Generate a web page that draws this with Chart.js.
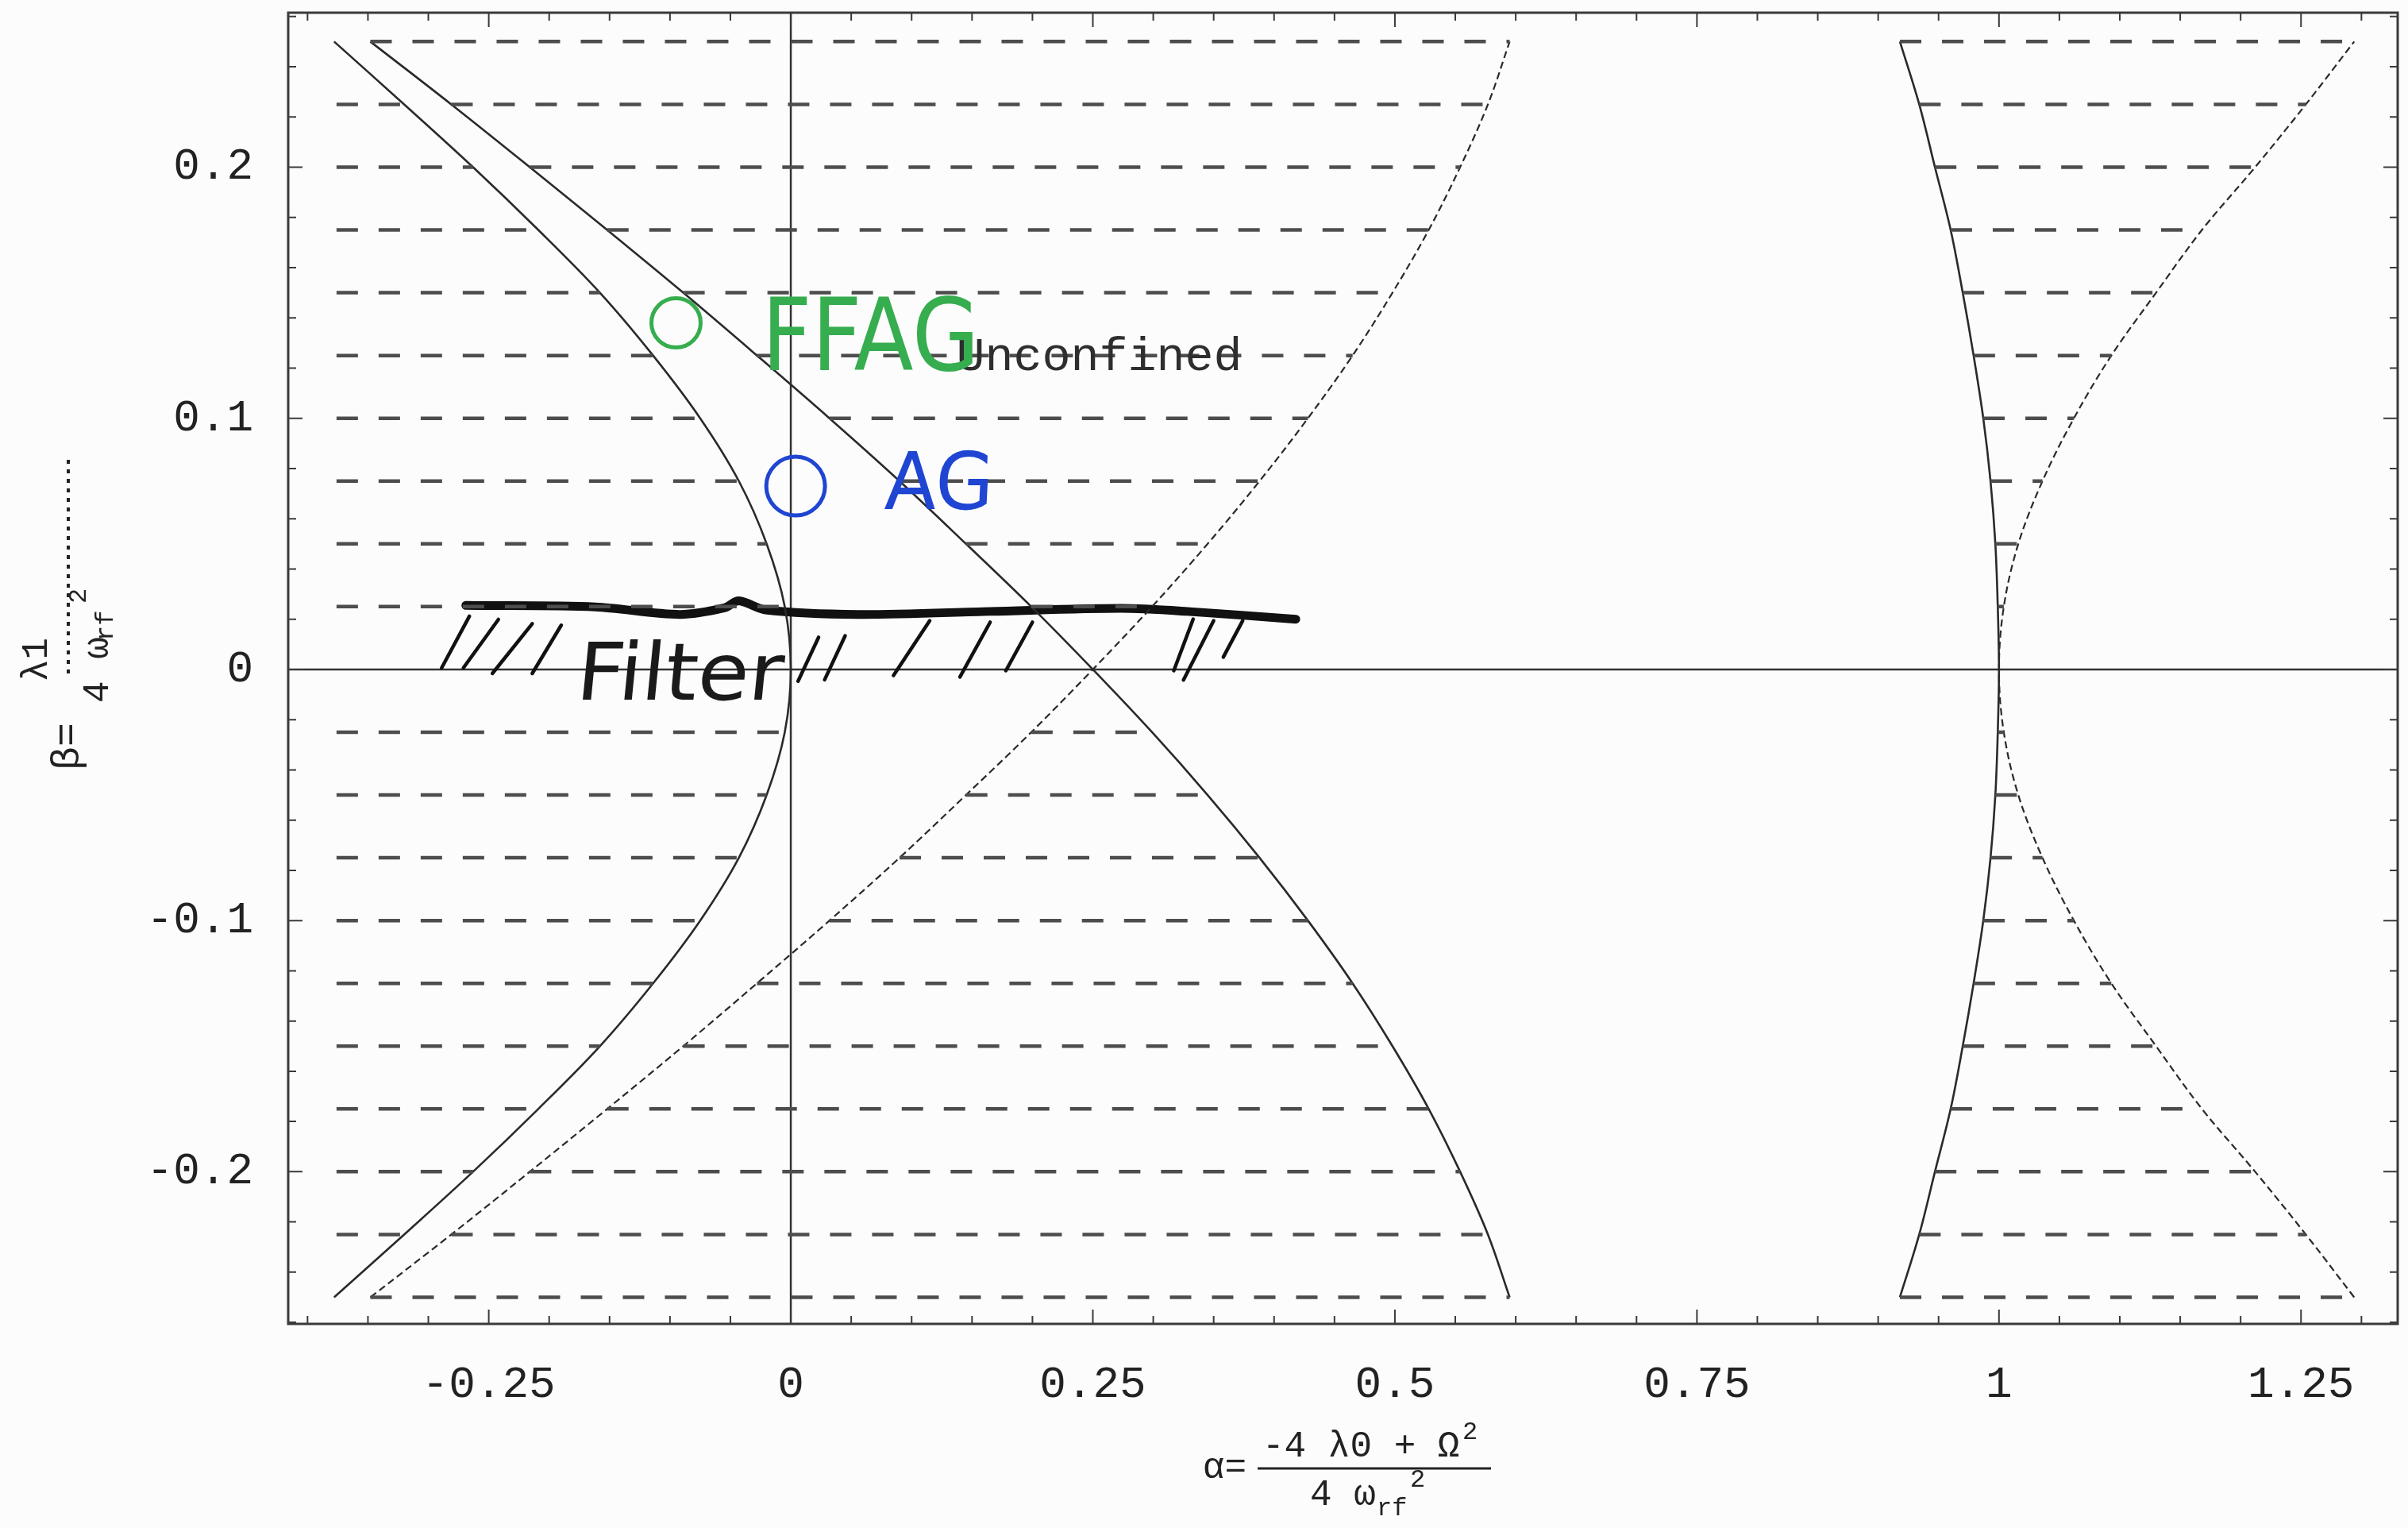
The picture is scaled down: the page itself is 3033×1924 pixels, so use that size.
<!DOCTYPE html>
<html>
<head>
<meta charset="utf-8">
<title>Stability diagram</title>
<script src="https://cdn.jsdelivr.net/npm/chart.js@4.4.0/dist/chart.umd.min.js"></script>
<style>
  html, body { margin: 0; padding: 0; background: #fcfcfc; }
  #wrap { width: 3033px; height: 1924px; }
</style>
</head>
<body>
<div id="wrap"><canvas id="chart" width="3033" height="1924"></canvas></div>
<script>
// Boundary curves, upper half (the picture is mirror-symmetric in beta)
const betaLevels = [0, 0.025, 0.05, 0.075, 0.1, 0.125, 0.15, 0.175, 0.2, 0.225, 0.25];
const a0Alpha = [0, -0.005, -0.020, -0.043, -0.075, -0.114, -0.158, -0.209, -0.263, -0.320, -0.378];
const b1Alpha = [0.25, 0.199, 0.145, 0.090, 0.032, -0.028, -0.089, -0.152, -0.216, -0.281, -0.348];
const a1Alpha = [0.25, 0.299, 0.345, 0.388, 0.428, 0.465, 0.498, 0.528, 0.554, 0.577, 0.595];
const b2Alpha = [1.0, 0.999, 0.997, 0.993, 0.987, 0.979, 0.970, 0.960, 0.947, 0.934, 0.918];
const a2Alpha = [1.0, 1.004, 1.016, 1.036, 1.062, 1.093, 1.130, 1.168, 1.212, 1.254, 1.294];
const hatchLeft = -0.376; // where the dashed hatch rows start on the left

// Axis ticks
const xTickValues = [-0.25, 0, 0.25, 0.5, 0.75, 1, 1.25];
const xTickLabels = ['-0.25', '0', '0.25', '0.5', '0.75', '1', '1.25'];
const yTickValues = [-0.2, -0.1, 0, 0.1, 0.2];
const yTickLabels = ['-0.2', '-0.1', '0', '0.1', '0.2'];

// Hand-drawn marks
const ffagPoint = [{x: -0.095, y: 0.138}];
const agPoint = [{x: 0.004, y: 0.073}];
const filterLine = [
    [-0.269, 0.0255], [-0.162, 0.0249], [-0.092, 0.0219], [-0.055, 0.0245], [-0.043, 0.0273],
    [-0.021, 0.0237], [0.056, 0.0219], [0.165, 0.0231], [0.273, 0.0243], [0.328, 0.0231], [0.418, 0.0200]
];
const filterStrokes = [
    [-0.266, 0.0212, -0.289, 0.0006], [-0.242, 0.0199, -0.271, 0.0006],
    [-0.214, 0.0182, -0.247, -0.0016], [-0.190, 0.0176, -0.214, -0.0016],
    [0.023, 0.0128, 0.006, -0.0047], [0.045, 0.0134, 0.028, -0.0041],
    [0.115, 0.0194, 0.085, -0.0024], [0.165, 0.0188, 0.140, -0.0030],
    [0.200, 0.0188, 0.178, -0.0005], [0.333, 0.0200, 0.317, -0.0005],
    [0.350, 0.0194, 0.325, -0.0042], [0.374, 0.0194, 0.358, 0.0049]
];

// curve from beta=-0.25 up to +0.25: lower half uses `lower`, upper half `upper`
function fullCurve(upper, lower) {
    const pts = [];
    for (let i = betaLevels.length - 1; i >= 1; i--) pts.push({x: lower[i], y: -betaLevels[i]});
    for (let i = 0; i < betaLevels.length; i++) pts.push({x: upper[i], y: betaLevels[i]});
    return pts;
}

// dashed hatch rows in the unconfined regions
function hatchRows() {
    const pts = [];
    const seg = (s, e, b) => { pts.push({x: s, y: b}, {x: e, y: b}, {x: e, y: null}); };
    for (let k = 1; k < betaLevels.length; k++) {
        [1, -1].forEach(sign => {
            const b = sign * betaLevels[k];
            if (a0Alpha[k] > hatchLeft) seg(hatchLeft, a0Alpha[k], b);
            seg(b1Alpha[k], a1Alpha[k], b);
            seg(b2Alpha[k], a2Alpha[k], b);
        });
    }
    return pts;
}

function strokePoints() {
    const pts = [];
    filterStrokes.forEach(s => { pts.push({x: s[0], y: s[1]}, {x: s[2], y: s[3]}, {x: s[2], y: null}); });
    return pts;
}

const INK = '#2a2a2a';
const MONO = "'Liberation Mono', 'DejaVu Sans Mono', monospace";

const curve = (data, dashed) => ({
    data: data,
    showLine: true,
    borderColor: INK,
    borderWidth: dashed ? 2.2 : 2.6,
    borderDash: dashed ? [9, 5] : [],
    tension: 0.35,
    pointRadius: 0,
    fill: false
});

const decor = {
    id: 'decor',
    beforeDraw(chart) {
        const ctx = chart.ctx;
        ctx.save();
        ctx.fillStyle = '#fcfcfc';
        ctx.fillRect(0, 0, chart.width, chart.height);
        ctx.restore();
    },
    beforeDatasetsDraw(chart) {
        // axes through the origin
        const {ctx, chartArea: a, scales: {x, y}} = chart;
        ctx.save();
        ctx.strokeStyle = '#333';
        ctx.lineWidth = 2.5;
        ctx.beginPath();
        ctx.moveTo(x.getPixelForValue(0), a.top);
        ctx.lineTo(x.getPixelForValue(0), a.bottom);
        ctx.moveTo(a.left, y.getPixelForValue(0));
        ctx.lineTo(a.right, y.getPixelForValue(0));
        ctx.stroke();
        ctx.restore();
    },
    afterDatasetsDraw(chart) {
        // frame with inward ticks on all four sides
        const {ctx, chartArea: a, scales: {x, y}} = chart;
        ctx.save();
        ctx.strokeStyle = '#3a3a3a';
        ctx.lineWidth = 3;
        ctx.strokeRect(a.left, a.top, a.right - a.left, a.bottom - a.top);
        ctx.lineWidth = 2;
        ctx.beginPath();
        for (let i = -8; i <= 26; i++) {
            const px = x.getPixelForValue(i * 0.05);
            if (px < a.left || px > a.right) continue;
            const len = i % 5 === 0 ? 18 : 10;
            ctx.moveTo(px, a.bottom); ctx.lineTo(px, a.bottom - len);
            ctx.moveTo(px, a.top); ctx.lineTo(px, a.top + len);
        }
        for (let i = -13; i <= 13; i++) {
            const py = y.getPixelForValue(i * 0.02);
            if (py < a.top || py > a.bottom) continue;
            const len = i % 5 === 0 ? 18 : 10;
            ctx.moveTo(a.left, py); ctx.lineTo(a.left + len, py);
            ctx.moveTo(a.right, py); ctx.lineTo(a.right - len, py);
        }
        ctx.stroke();
        ctx.restore();
    },
    afterDraw(chart) {
        const {ctx, scales: {x, y}} = chart;
        ctx.save();
        ctx.textBaseline = 'alphabetic';

        // printed label
        ctx.fillStyle = '#2e2e2e';
        ctx.font = '60px ' + MONO;
        ctx.fillText('Unconfined', x.getPixelForValue(0.137), y.getPixelForValue(0.1192));

        // handwritten notes
        const hand = (txt, ax, by, size, color, sx, skew) => {
            ctx.save();
            ctx.translate(x.getPixelForValue(ax), y.getPixelForValue(by));
            ctx.transform(sx, 0, skew, 1, 0, 0);
            ctx.fillStyle = color;
            ctx.font = size + "px 'DejaVu Sans'";
            ctx.fillText(txt, 0, 0);
            ctx.restore();
        };
        hand('FFAG', -0.024, 0.1192, 126, '#36ad4e', 0.87, 0);
        hand('AG', 0.077, 0.064, 100, '#1f45d2', 0.95, -0.05);
        hand('Filter', -0.179, -0.012, 100, '#1a1a1a', 1.05, -0.1);

        // x axis title
        ctx.fillStyle = '#222';
        ctx.font = '46px ' + MONO;
        ctx.textAlign = 'right';
        ctx.textBaseline = 'middle';
        ctx.fillText('\u03b1=', 1570, 1849);
        ctx.lineWidth = 3;
        ctx.strokeStyle = '#222';
        ctx.beginPath(); ctx.moveTo(1584, 1849); ctx.lineTo(1878, 1849); ctx.stroke();
        ctx.textAlign = 'left';
        ctx.textBaseline = 'alphabetic';
        ctx.fillText('-4 \u03bb0 + \u03a9', 1590, 1834);
        ctx.font = '32px ' + MONO;
        ctx.fillText('2', 1842, 1812);
        ctx.font = '46px ' + MONO;
        ctx.fillText('4 \u03c9', 1650, 1895);
        ctx.font = '32px ' + MONO;
        ctx.fillText('rf', 1734, 1908);
        ctx.fillText('2', 1776, 1872);

        // y axis title, rotated
        ctx.save();
        ctx.rotate(-Math.PI / 2);
        const put = (txt, sx, sy, size) => {
            ctx.font = size + 'px ' + MONO;
            ctx.fillText(txt, -sy, sx);
        };
        ctx.textBaseline = 'middle';
        put('\u03b2=', 86, 970, 50);
        put('\u03bb1', 47, 858, 46);
        put('4 \u03c9', 124, 885, 46);
        put('rf', 134, 807, 32);
        put('2', 100, 760, 32);
        ctx.restore();
        ctx.setLineDash([5, 7]);
        ctx.lineWidth = 4;
        ctx.beginPath(); ctx.moveTo(86, 848); ctx.lineTo(86, 578); ctx.stroke();
        ctx.restore();
    }
};

new Chart(document.getElementById('chart'), {
    type: 'scatter',
    data: {
        datasets: [
            {
                data: hatchRows(), showLine: true, spanGaps: false, tension: 0,
                borderColor: '#4d4d4d', borderWidth: 4.5, borderDash: [27, 26], pointRadius: 0
            },
            curve(fullCurve(a0Alpha, a0Alpha), false),
            curve(fullCurve(b1Alpha, a1Alpha), false),
            curve(fullCurve(a1Alpha, b1Alpha), true),
            curve(fullCurve(b2Alpha, b2Alpha), false),
            curve(fullCurve(a2Alpha, a2Alpha), true),
            {
                data: filterLine.map(p => ({x: p[0], y: p[1]})), showLine: true, tension: 0.3,
                borderColor: '#111', borderWidth: 11, pointRadius: 0, borderCapStyle: 'round'
            },
            {
                data: strokePoints(), showLine: true, spanGaps: false, tension: 0,
                borderColor: '#111', borderWidth: 4.5, pointRadius: 0, borderCapStyle: 'round'
            },
            {
                data: ffagPoint, pointRadius: 31, pointBorderWidth: 5,
                pointBorderColor: '#36ad4e', pointBackgroundColor: 'rgba(0,0,0,0)'
            },
            {
                data: agPoint, pointRadius: 37, pointBorderWidth: 5,
                pointBorderColor: '#1f45d2', pointBackgroundColor: 'rgba(0,0,0,0)'
            }
        ]
    },
    options: {
        responsive: false,
        animation: false,
        devicePixelRatio: 1,
        layout: { autoPadding: false, padding: { top: 16, right: 13, left: 0, bottom: 0 } },
        plugins: { legend: { display: false }, tooltip: { enabled: false } },
        scales: {
            x: {
                type: 'linear',
                min: -0.416,
                max: 1.33,
                grid: { display: false, drawTicks: false },
                border: { display: false },
                afterFit: s => { s.height = 257; s.paddingLeft = 0; s.paddingRight = 0; },
                afterBuildTicks: s => { s.ticks = xTickValues.map(v => ({value: v})); },
                ticks: {
                    callback: (v, i) => xTickLabels[i],
                    font: { family: MONO, size: 56 },
                    color: '#222',
                    padding: 44,
                    maxRotation: 0,
                    autoSkip: false
                }
            },
            y: {
                type: 'linear',
                min: -0.2606,
                max: 0.2615,
                grid: { display: false, drawTicks: false },
                border: { display: false },
                afterFit: s => { s.width = 363; s.paddingTop = 0; s.paddingBottom = 0; },
                afterBuildTicks: s => { s.ticks = yTickValues.map(v => ({value: v})); },
                ticks: {
                    callback: (v, i) => yTickLabels[i],
                    font: { family: MONO, size: 56 },
                    color: '#222',
                    padding: 44
                }
            }
        }
    },
    plugins: [decor]
});
</script>
</body>
</html>
